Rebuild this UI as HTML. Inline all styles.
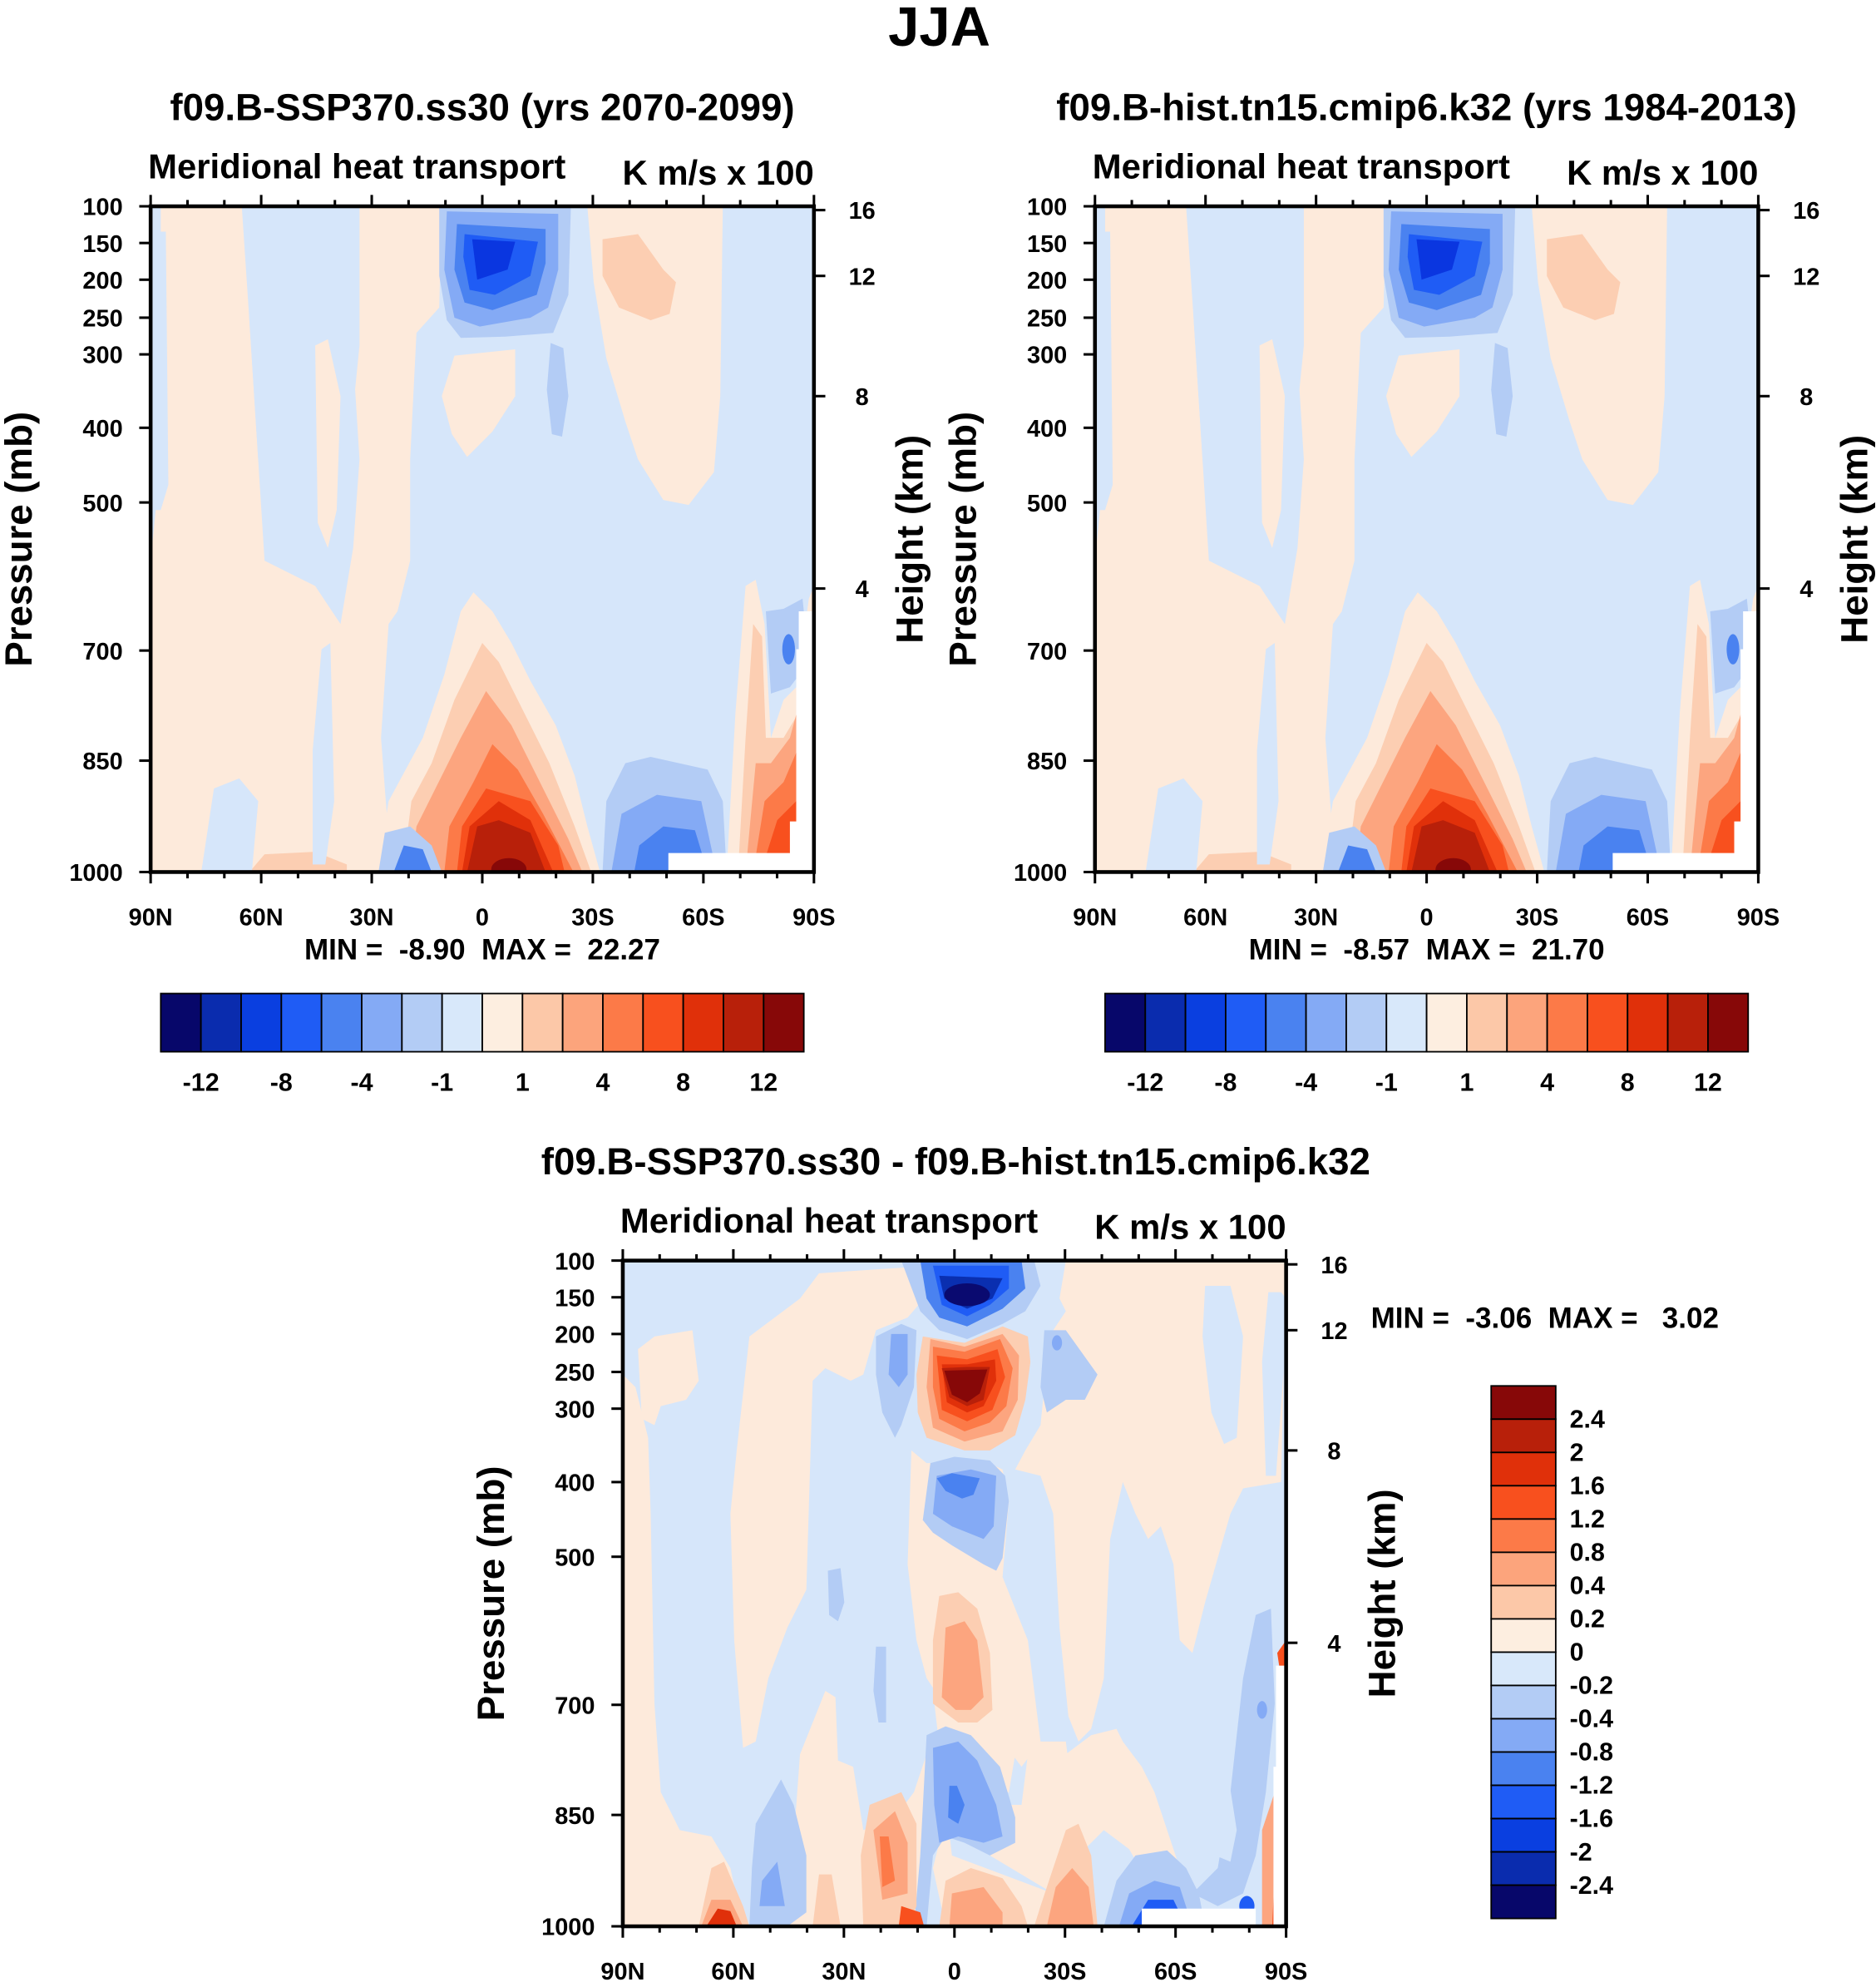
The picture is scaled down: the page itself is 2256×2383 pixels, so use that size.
<!DOCTYPE html>
<html><head><meta charset="utf-8"><style>
html,body{margin:0;padding:0;background:#fff}
svg{display:block}
text{font-family:"Liberation Sans",Arial,sans-serif;font-weight:bold;fill:#000;white-space:pre}
</style></head><body>
<svg width="2256" height="2383" viewBox="0 0 1482 1566" preserveAspectRatio="none" xmlns="http://www.w3.org/2000/svg" xml:space="preserve">
<defs>
<clipPath id="pc"><rect x="0" y="0" width="524" height="526"/></clipPath>
<g id="fieldTop">
 <rect x="0" y="0" width="524" height="526" fill="#d6e6fa"/>
 <path d="M8,0 L75,0 L78,90 L90,280 L110,290 L130,300 L150,330 L160,270 L165,200 L160,120 L165,0 L230,0 L228,80 L210,100 L205,200 L205,280 L195,320 L188,330 L182,420 L190,526 L0,526 L0,280 L8,200 Z" fill="#fdeadb"/>
 <path d="M0,20 L12,20 L14,220 L8,240 L0,240 Z" fill="#d6e6fa"/>
 <path d="M72,0 L165,0 L165,110 L160,160 L150,230 L120,270 L95,265 L85,200 L78,90 Z" fill="#d6e6fa"/>
 <path d="M130,110 L140,105 L150,150 L147,240 L140,270 L132,250 Z" fill="#fdeadb"/>
 <path d="M240,118 L288,113 L288,150 L270,178 L250,198 L238,180 L230,150 Z" fill="#fdeadb"/>
 <path d="M345,0 L452,0 L450,150 L445,210 L425,236 L405,232 L385,200 L375,170 L360,120 L350,60 Z" fill="#fdeadb"/>
 <path d="M357,26 L385,22 L405,50 L415,60 L410,85 L395,90 L370,80 L357,55 Z" fill="#fcceb2"/>
 <path d="M316,108 L326,112 L330,150 L325,182 L317,180 L313,145 Z" fill="#b3ccf5"/>
 <path d="M228,0 L332,0 L330,70 L318,100 L280,103 L245,104 L234,90 L228,55 Z" fill="#b3ccf5"/>
 <path d="M234,4 L322,6 L322,50 L314,80 L300,88 L260,95 L240,88 L232,50 Z" fill="#84aaf5"/>
 <path d="M242,14 L312,18 L312,45 L305,70 L270,82 L248,76 L240,50 Z" fill="#4a82f0"/>
 <path d="M248,22 L306,28 L300,55 L272,70 L252,66 L247,40 Z" fill="#1f5cf5"/>
 <path d="M254,26 L288,28 L282,50 L258,58 Z" fill="#0a36e0"/>
 <path d="M179,526 L188,470 L215,420 L232,370 L245,320 L255,305 L270,320 L285,345 L300,375 L320,410 L335,450 L345,490 L355,526 Z" fill="#fdeadb"/>
 <path d="M199,526 L206,470 L222,440 L240,390 L262,345 L275,360 L295,400 L315,440 L335,490 L348,526 Z" fill="#fcceb2"/>
 <path d="M206,526 L210,490 L225,460 L245,420 L265,383 L285,410 L305,450 L330,500 L341,526 Z" fill="#fca57f"/>
 <path d="M232,526 L236,490 L255,455 L270,425 L290,445 L310,480 L334,526 Z" fill="#fc7a48"/>
 <path d="M242,526 L246,490 L265,460 L300,470 L322,505 L327,526 Z" fill="#f8501e"/>
 <path d="M246,526 L252,490 L275,470 L300,485 L318,526 Z" fill="#e0300a"/>
 <path d="M250,526 L258,490 L275,485 L300,495 L312,526 Z" fill="#b8200a"/>
 <ellipse cx="283" cy="524" rx="14" ry="9" fill="#870808"/>
 <path d="M180,526 L185,495 L205,490 L222,505 L230,526 Z" fill="#b3ccf5"/>
 <path d="M192,526 L200,505 L215,508 L222,526 Z" fill="#4a82f0"/>
 <path d="M58,526 L62,490 L70,485 L75,510 L78,526 Z" fill="#b3ccf5"/>
 <path d="M78,526 L90,512 L130,510 L155,520 L155,526 Z" fill="#fcceb2"/>
 <path d="M40,526 L50,460 L70,452 L85,470 L80,526 Z" fill="#d6e6fa"/>
 <path d="M128,430 L135,350 L142,345 L145,470 L138,520 L128,520 Z" fill="#d6e6fa"/>
 <path d="M357,526 L360,470 L375,440 L395,435 L440,445 L452,470 L455,526 Z" fill="#b3ccf5"/>
 <path d="M364,526 L372,480 L400,465 L435,470 L447,526 Z" fill="#84aaf5"/>
 <path d="M382,526 L386,505 L405,490 L430,493 L440,526 Z" fill="#4a82f0"/>
 <path d="M455,526 L462,400 L470,300 L478,295 L485,330 L490,420 L500,390 L510,380 L520,310 L524,300 L524,526 Z" fill="#fdeadb"/>
 <path d="M464,526 L470,420 L476,330 L483,340 L486,420 L500,420 L512,400 L524,340 L524,526 Z" fill="#fcceb2"/>
 <path d="M470,526 L478,440 L490,440 L505,420 L524,350 L524,526 Z" fill="#fca57f"/>
 <path d="M476,526 L485,470 L500,455 L515,420 L524,380 L524,526 Z" fill="#fc7a48"/>
 <path d="M482,526 L495,485 L510,470 L524,410 L524,526 Z" fill="#f8501e"/>
 <path d="M500,526 L510,495 L520,470 L524,470 L524,526 Z" fill="#e0300a"/>
 <path d="M486,320 L500,318 L515,310 L520,360 L505,380 L490,385 Z" fill="#b3ccf5"/>
 <ellipse cx="504" cy="350" rx="5" ry="12" fill="#4a82f0"/>
 <path d="M409,511 L524,511 L524,526 L409,526 Z" fill="#fff"/>
 <path d="M512,320 L524,320 L524,526 L505,526 L505,486 L510,486 L510,350 L512,350 Z" fill="#fff"/>
</g>
<g id="fieldBot">
 <rect x="0" y="0" width="524" height="526" fill="#d6e6fa"/>
 <path d="M100,60 L140,30 L155,10 L230,5 L238,30 L225,45 L200,55 L190,90 L180,95 L160,85 L150,95 L145,260 L130,290 L115,330 L105,380 L95,385 L88,300 L85,200 L90,150 Z" fill="#fdeadb"/>
 <path d="M0,90 L10,100 L20,140 L22,200 L25,350 L30,420 L45,450 L70,455 L85,480 L95,526 L0,526 Z" fill="#fdeadb"/>
 <path d="M12,70 L25,60 L55,55 L60,95 L50,110 L30,115 L25,130 L15,125 Z" fill="#fdeadb"/>
 <path d="M228,150 L240,160 L262,160 L285,158 L300,165 L305,190 L300,250 L320,300 L330,380 L315,400 L300,380 L290,370 L260,355 L250,345 L240,330 L232,300 L225,240 Z" fill="#fdeadb"/>
 <path d="M310,165 L330,170 L340,200 L345,290 L352,360 L360,380 L370,370 L380,330 L385,220 L395,175 L405,200 L415,220 L425,210 L435,240 L440,300 L450,310 L460,270 L480,200 L490,180 L520,175 L524,0 L350,0 L345,30 L350,40 L340,55 L335,80 L330,130 L318,150 Z" fill="#fdeadb"/>
 <path d="M460,20 L480,20 L490,60 L485,140 L475,145 L465,120 L458,60 Z" fill="#d6e6fa"/>
 <path d="M510,25 L520,25 L524,30 L524,60 L516,170 L508,170 L505,80 Z" fill="#d6e6fa"/>
 <path d="M140,390 L160,340 L168,345 L170,395 L182,400 L190,450 L215,440 L230,420 L240,390 L235,470 L238,526 L130,526 Z" fill="#fdeadb"/>
 <path d="M245,340 L300,360 L310,390 L305,420 L280,430 L255,440 L245,480 L255,526 L350,526 L360,470 L380,450 L400,465 L420,500 L430,526 L440,480 L430,450 L420,420 L410,400 L395,380 L390,370 L370,375 L350,390 L330,380 L320,390 L315,430 L295,430 L280,445 L290,470 L340,500 L260,470 Z" fill="#fdeadb"/>
 <path d="M330,380 L350,380 L355,420 L345,440 L330,430 Z" fill="#fdeadb"/>
 <path d="M250,240 L270,235 L290,280 L295,360 L275,370 L255,360 L250,300 Z" fill="#fdeadb"/>
 <path d="M220,0 L325,0 L330,20 L318,40 L300,50 L272,62 L250,55 L235,40 Z" fill="#b3ccf5"/>
 <path d="M235,0 L315,0 L318,22 L300,38 L272,52 L250,45 L240,30 Z" fill="#4a82f0"/>
 <path d="M245,4 L305,4 L305,22 L290,35 L272,44 L252,35 Z" fill="#1f5cf5"/>
 <path d="M250,12 L300,14 L292,30 L272,38 L254,30 Z" fill="#0a2fb0"/>
 <ellipse cx="272" cy="27" rx="18" ry="9" fill="#0a0a70"/>
 <path d="M237,60 L270,65 L300,52 L320,60 L322,80 L318,110 L310,138 L290,150 L270,150 L240,140 L233,120 L232,90 Z" fill="#fcceb2"/>
 <path d="M243,62 L270,68 L300,58 L313,75 L312,110 L300,135 L270,143 L245,132 L240,100 Z" fill="#fca57f"/>
 <path d="M245,68 L270,72 L298,62 L308,85 L303,115 L290,128 L270,135 L250,125 L245,100 Z" fill="#fc7a48"/>
 <path d="M248,75 L272,78 L296,70 L302,92 L292,118 L272,127 L252,118 Z" fill="#f8501e"/>
 <path d="M252,82 L272,82 L294,78 L295,95 L285,115 L272,120 L256,112 Z" fill="#e0300a"/>
 <path d="M252,85 L272,84 L290,84 L285,110 L272,115 L258,108 Z" fill="#b8200a"/>
 <path d="M254,87 L288,86 L282,105 L272,112 L260,106 Z" fill="#870808"/>
 <path d="M200,60 L220,50 L232,55 L230,100 L220,130 L215,140 L205,120 L200,90 Z" fill="#b3ccf5"/>
 <path d="M212,58 L225,58 L225,90 L218,100 L210,90 Z" fill="#84aaf5"/>
 <path d="M333,55 L350,55 L375,90 L365,110 L350,110 L335,120 L330,100 Z" fill="#b3ccf5"/>
 <ellipse cx="343" cy="65" rx="4" ry="6" fill="#84aaf5"/>
 <path d="M243,160 L262,155 L290,158 L302,170 L305,190 L300,235 L295,245 L285,240 L260,225 L245,215 L237,205 Z" fill="#b3ccf5"/>
 <path d="M248,170 L275,165 L295,170 L293,210 L285,220 L260,210 L245,200 Z" fill="#84aaf5"/>
 <path d="M248,172 L260,168 L282,172 L277,185 L268,188 L255,182 Z" fill="#4a82f0"/>
 <path d="M162,245 L172,243 L175,270 L170,285 L163,280 Z" fill="#b3ccf5"/>
 <path d="M200,305 L208,305 L208,365 L202,365 L198,340 Z" fill="#b3ccf5"/>
 <path d="M250,265 L265,262 L280,275 L290,310 L292,355 L280,365 L265,365 L245,350 L245,300 Z" fill="#fcceb2"/>
 <path d="M255,290 L270,285 L280,300 L285,345 L275,355 L263,355 L252,345 Z" fill="#fca57f"/>
 <path d="M240,375 L255,368 L275,375 L298,400 L310,440 L310,460 L290,470 L270,460 L255,455 L245,470 L240,526 L230,526 L235,470 Z" fill="#b3ccf5"/>
 <path d="M245,385 L265,380 L280,395 L295,430 L300,455 L285,460 L265,455 L250,460 L246,430 Z" fill="#84aaf5"/>
 <path d="M258,415 L264,415 L270,430 L265,445 L257,440 Z" fill="#4a82f0"/>
 <path d="M195,430 L220,420 L232,445 L232,510 L225,526 L190,526 L188,470 Z" fill="#fcceb2"/>
 <path d="M198,450 L215,435 L225,460 L225,500 L205,505 Z" fill="#fca57f"/>
 <path d="M203,455 L210,455 L215,490 L205,495 Z" fill="#fc7a48"/>
 <path d="M220,510 L235,515 L238,526 L218,526 Z" fill="#f8501e"/>
 <path d="M105,445 L125,410 L135,430 L145,470 L145,515 L130,526 L100,526 L102,480 Z" fill="#b3ccf5"/>
 <path d="M110,490 L122,475 L128,510 L108,510 Z" fill="#84aaf5"/>
 <path d="M60,526 L70,480 L80,475 L95,510 L100,526 Z" fill="#fcceb2"/>
 <path d="M62,526 L70,505 L85,505 L95,526 Z" fill="#fca57f"/>
 <path d="M66,526 L75,512 L85,514 L90,526 Z" fill="#e0300a"/>
 <path d="M150,526 L155,485 L165,485 L172,526 Z" fill="#fcceb2"/>
 <path d="M255,490 L275,480 L300,488 L315,510 L320,526 L250,526 Z" fill="#fcceb2"/>
 <path d="M260,500 L285,495 L300,515 L300,526 L258,526 Z" fill="#fca57f"/>
 <path d="M330,510 L340,480 L350,450 L360,445 L370,470 L375,526 L325,526 Z" fill="#fcceb2"/>
 <path d="M335,526 L342,495 L355,480 L368,495 L372,526 Z" fill="#fca57f"/>
 <path d="M380,526 L390,490 L405,470 L430,466 L445,480 L455,500 L460,526 Z" fill="#b3ccf5"/>
 <path d="M392,526 L400,500 L420,490 L440,495 L450,526 Z" fill="#84aaf5"/>
 <path d="M402,526 L415,505 L435,505 L445,526 Z" fill="#1f5cf5"/>
 <path d="M450,500 L470,480 L480,420 L490,330 L500,280 L512,275 L515,350 L508,420 L500,470 L490,500 L470,510 Z" fill="#b3ccf5"/>
 <path d="M468,420 L478,405 L485,450 L480,475 L468,470 Z" fill="#d6e6fa"/>
 <ellipse cx="505" cy="355" rx="4" ry="7" fill="#84aaf5"/>
 <path d="M505,450 L515,420 L518,360 L524,350 L524,526 L505,526 Z" fill="#fca57f"/>
 <path d="M513,526 L517,440 L524,400 L524,526 Z" fill="#f8501e"/>
 <path d="M517,310 L524,300 L524,330 L520,330 Z" fill="#f8501e"/>
 <ellipse cx="493" cy="510" rx="6" ry="8" fill="#1f5cf5"/>
 <path d="M410,512 L500,512 L500,526 L410,526 Z" fill="#fff"/>
 <path d="M516,320 L524,320 L524,526 L514,526 L514,400 L516,400 Z" fill="#fff"/>
</g>
</defs>

<text x="742" y="36" font-size="44" text-anchor="middle">JJA</text>

<g transform="translate(119,163)"><g clip-path="url(#pc)"><use href="#fieldTop"/></g></g>
<g transform="translate(865,163)"><g clip-path="url(#pc)"><use href="#fieldTop"/></g></g>
<g transform="translate(492,996)"><g clip-path="url(#pc)"><use href="#fieldBot"/></g></g>

<g id="axes"></g>

<text x="381" y="95" font-size="30" text-anchor="middle">f09.B-SSP370.ss30 (yrs 2070-2099)</text>
<text x="117" y="141" font-size="27.5">Meridional heat transport</text>
<text x="643" y="146" font-size="27.5" text-anchor="end">K m/s x 100</text>
<text x="381" y="758" font-size="23" text-anchor="middle">MIN =  -8.90  MAX =  22.27</text>

<text x="1127" y="95" font-size="30" text-anchor="middle">f09.B-hist.tn15.cmip6.k32 (yrs 1984-2013)</text>
<text x="863" y="141" font-size="27.5">Meridional heat transport</text>
<text x="1389" y="146" font-size="27.5" text-anchor="end">K m/s x 100</text>
<text x="1127" y="758" font-size="23" text-anchor="middle">MIN =  -8.57  MAX =  21.70</text>

<text x="755" y="928" font-size="30" text-anchor="middle">f09.B-SSP370.ss30 - f09.B-hist.tn15.cmip6.k32</text>
<text x="490" y="974" font-size="27.5">Meridional heat transport</text>
<text x="1016" y="979" font-size="27.5" text-anchor="end">K m/s x 100</text>
<text x="1083" y="1049" font-size="23">MIN =  -3.06  MAX =   3.02</text>

<text transform="translate(25,426) rotate(-90)" font-size="30" text-anchor="middle">Pressure (mb)</text>
<text transform="translate(729,426) rotate(-90)" font-size="30" text-anchor="middle">Height (km)</text>
<text transform="translate(771,426) rotate(-90)" font-size="30" text-anchor="middle">Pressure (mb)</text>
<text transform="translate(1475,426) rotate(-90)" font-size="30" text-anchor="middle">Height (km)</text>
<text transform="translate(398,1259) rotate(-90)" font-size="30" text-anchor="middle">Pressure (mb)</text>
<text transform="translate(1102,1259) rotate(-90)" font-size="30" text-anchor="middle">Height (km)</text>

<g id="cbs"></g>

<script>
(function(){
var NS="http://www.w3.org/2000/svg";
function el(p,t,a,txt){var e=document.createElementNS(NS,t);for(var k in a)e.setAttribute(k,a[k]);if(txt!==undefined)e.textContent=txt;p.appendChild(e);return e;}
var ax=document.getElementById('axes');
var pl=[[100,163],[150,192],[200,221],[250,251],[300,280],[400,338],[500,397],[700,514],[850,601],[1000,689]];
var hl=[[16,166],[12,218],[8,313],[4,465]];
var lat=['90N','60N','30N','0','30S','60S','90S'];
function panel(x0,y0){
 var dy=y0-163;
 el(ax,'rect',{x:x0,y:y0,width:524,height:526,fill:'none',stroke:'#000','stroke-width':3});
 for(var i=0;i<=18;i++){var x=x0+i*524/18;var L=(i%3==0)?9:5;
  el(ax,'line',{x1:x,y1:y0,x2:x,y2:y0-L,stroke:'#000','stroke-width':2});
  el(ax,'line',{x1:x,y1:y0+526,x2:x,y2:y0+526+L,stroke:'#000','stroke-width':2});}
 for(var i=0;i<7;i++){el(ax,'text',{x:x0+i*524/6,y:y0+568,'font-size':19,'text-anchor':'middle'},lat[i]);}
 pl.forEach(function(p){var y=p[1]+dy;el(ax,'line',{x1:x0,y1:y,x2:x0-9,y2:y,stroke:'#000','stroke-width':2});
  el(ax,'text',{x:x0-22,y:y+7,'font-size':19,'text-anchor':'end'},p[0]);});
 hl.forEach(function(p){var y=p[1]+dy;el(ax,'line',{x1:x0+524,y1:y,x2:x0+533,y2:y,stroke:'#000','stroke-width':2});
  el(ax,'text',{x:x0+562,y:y+7,'font-size':19,'text-anchor':'middle'},p[0]);});
}
panel(119,163);panel(865,163);panel(492,996);
var cols=['#07076a','#0a2cae','#0a3fe0','#1f5cf5','#4a82f0','#84aaf5','#b3ccf5','#d8e8fa','#fdeee0','#fcc8a8','#fca47c','#fc7a48','#f8501e','#e0300a','#b8200a','#870808'];
var cb=document.getElementById('cbs');
var hl2=['-12','-8','-4','-1','1','4','8','12'];
[127,873].forEach(function(x0){
 for(var i=0;i<16;i++)el(cb,'rect',{x:x0+i*31.75,y:785,width:31.75,height:46,fill:cols[i],stroke:'#000','stroke-width':1.2});
 for(var j=0;j<8;j++)el(cb,'text',{x:x0+31.75*(2*j+1),y:862,'font-size':20,'text-anchor':'middle'},hl2[j]);
});
var vl=['2.4','2','1.6','1.2','0.8','0.4','0.2','0','-0.2','-0.4','-0.8','-1.2','-1.6','-2','-2.4'];
for(var i=0;i<16;i++)el(cb,'rect',{x:1178,y:1095+i*26.3,width:51,height:26.3,fill:cols[15-i],stroke:'#000','stroke-width':1.2});
for(var j=0;j<15;j++)el(cb,'text',{x:1240,y:1128+j*26.3,'font-size':20},vl[j]);
})();
</script>
</svg>
</body></html>
